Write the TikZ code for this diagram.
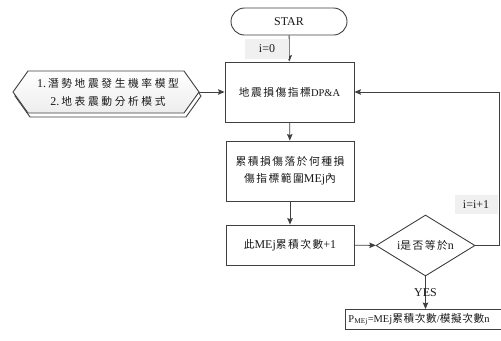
\documentclass[tikz,border=0pt]{standalone}
\usepackage{fontspec}
\setmainfont{Liberation Serif}
\newfontfamily\cjkfont{Noto Sans CJK TC}[LetterSpace=14,Scale=0.9]
\newfontfamily\cjkwide{Noto Sans CJK TC}[LetterSpace=24,Scale=0.9]
\newfontfamily\cjktight{Noto Sans CJK TC}[LetterSpace=6,Scale=1.02]
\newcommand\zh[1]{{\cjkfont #1}}
\usetikzlibrary{shapes.geometric,arrows.meta,calc}
\definecolor{linegray}{HTML}{404040}
\definecolor{txt}{HTML}{1A1A1A}
\tikzset{
  every node/.style={text=txt,font=\fontsize{12}{17}\selectfont},
  arr/.style={draw=linegray,line width=0.9bp,-{Stealth[length=6.5bp,width=5.5bp,inset=1bp]}},
  procbox/.style={draw=linegray,line width=0.9bp,fill=white,rectangle,align=center,inner sep=2bp},
  startbox/.style={draw=linegray,line width=0.9bp,fill=white,rectangle,rounded corners=13.5bp,
    minimum width=116bp,minimum height=27bp},
  decision/.style={draw=linegray,line width=0.9bp,fill=white,diamond,shape aspect=1.6,
    minimum width=99bp,minimum height=61bp,inner sep=0pt},
  tagbox/.style={fill=gray!12,inner sep=2bp,text height=9bp,text depth=2bp}
}
\begin{document}
\begin{tikzpicture}[x=1bp,y=-1bp]
\useasboundingbox (0,0) rectangle (501,340);
\clip (0,0) rectangle (501,340);

% start terminal
\node[startbox] (start) at (289,21.5) {STAR};

% main process column
\node[procbox,minimum width=129bp,minimum height=60bp] (dmg) at (289.5,92)
  {\zh{地震損傷指標}{\fontsize{10.5}{12}\selectfont DP\&A}};
\node[procbox,minimum width=128bp,minimum height=60bp] (range) at (290,171)
  {\zh{累積損傷落於何種損}\\\zh{傷指標範圍}MEj\zh{內}};
\node[procbox,minimum width=128bp,minimum height=40bp] (count) at (290,245)
  {\zh{此}MEj\zh{累積次數}+1};
\node[decision] (dec) at (425.5,245.5) {i\zh{是否等於}n};

% result box running off the right edge
\node[procbox,anchor=north west,minimum width=180bp,minimum height=20bp,text width=174bp,
  align=left,inner sep=1bp,font=\fontsize{10.5}{12}\selectfont] (res) at (345,309)
  {P$_{\mathrm{MEj}}$=MEj{\cjktight 累積次數}/{\cjktight 模擬次數}n};

% input hexagon with offset copy behind it
\coordinate (hexL) at (13,92);
\coordinate (hexR) at (199,92);
\begin{scope}[shift={(2,4)}]
  \draw[linegray,line width=0.9bp,fill=white]
    (28,71) -- (184,71) -- (199,92) -- (184,113) -- (28,113) -- (13,92) -- cycle;
\end{scope}
\draw[linegray,line width=0.9bp,top color=white,bottom color=gray!14]
  (28,71) -- (184,71) -- (hexR) -- (184,113) -- (28,113) -- (hexL) -- cycle;
\node[align=center,font=\fontsize{12}{18}\selectfont] (inp) at (108,92)
  {1.\,{\cjkwide 潛勢地震發生機率模型}\\2.\,{\cjkwide 地表震動分析模式}};

% connectors
\draw[arr] (start) -- (dmg);
\draw[arr] (hexR) -- (dmg);
\draw[arr] (dmg) -- (range);
\draw[arr] (range) -- (count);
\draw[arr] (count) -- (dec);
\coordinate (turn) at (499,92);
\draw[arr] (dec.east) -| (turn) -- (dmg.east);
\draw[arr] (dec.south) -- (res.north -| dec.south);

% connector labels
\node[tagbox,minimum width=44bp,minimum height=20bp] (initlab) at (267,48.5) {i=0};
\node[tagbox,minimum width=43bp,minimum height=19bp] (inclab) at (476,204.5) {i=i+1};
\node[inner sep=0pt] (yes) at (425.5,293) {YES};
\end{tikzpicture}
\end{document}
